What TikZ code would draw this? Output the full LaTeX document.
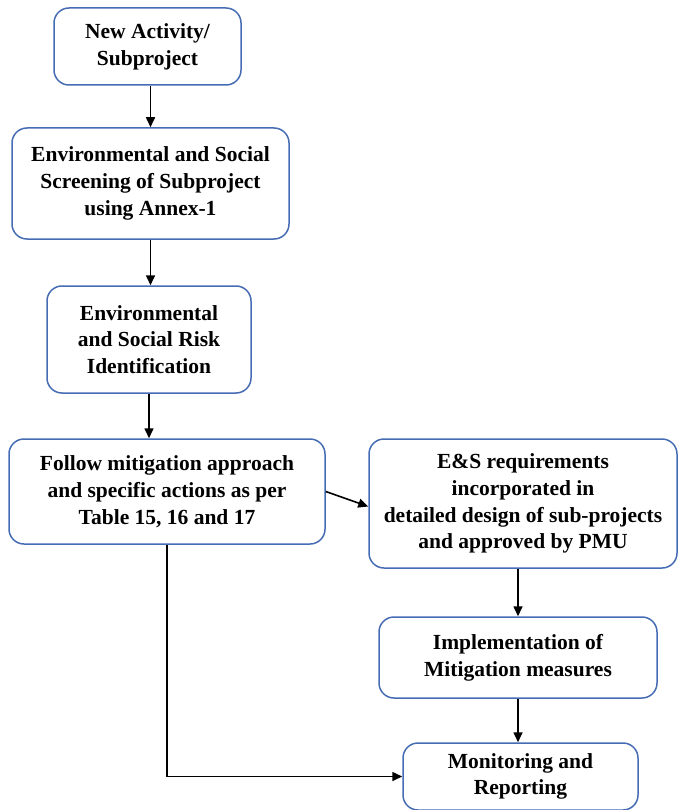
\documentclass[tikz,border=0pt]{standalone}
\usepackage{fontspec}
\setmainfont{Liberation Serif}
\usepackage{tikz}
\usetikzlibrary{arrows.meta,positioning,calc}

\definecolor{boxblue}{RGB}{70,108,180}

\begin{document}
\begin{tikzpicture}[x=1pt,y=-1pt,
	box/.style={draw=boxblue, line width=1.5pt, rounded corners=15pt, fill=white,
		align=center, inner sep=0pt, font=\fontsize{21.5}{26.8}\selectfont\bfseries},
	arr/.style={-{Triangle[length=10pt,width=9pt]}, line width=1.6pt, black}]
	\useasboundingbox (0,0) rectangle (678,810);
	% left column
	\node[box, minimum width=187pt, minimum height=77pt] (new) at (147.5,46.5) {New Activity/\\Subproject};
	\node[box, minimum width=277pt, minimum height=111pt] (screen) at (150.5,183.5) {Environmental and Social\\Screening of Subproject\\using Annex-1};
	\node[box, minimum width=204pt, minimum height=107pt] (risk) at (149,339.5) {Environmental\\and Social Risk\\Identification};
	\node[box, minimum width=316pt, minimum height=105pt] (follow) at (167,491.5) {Follow mitigation approach\\and specific actions as per\\Table 15, 16 and 17};
	% right column
	\node[box, minimum width=308pt, minimum height=129pt] (design) at (523,503.5) {E\&S requirements\\incorporated in\\detailed design of sub-projects\\and approved by PMU};
	\node[box, minimum width=278pt, minimum height=81pt] (implement) at (518,657.5) {Implementation of\\Mitigation measures};
	\node[box, minimum width=235pt, minimum height=67pt] (monitor) at (520.5,776.5) {Monitoring and\\Reporting};

	\draw[arr] (new.south -| screen) -- (screen.north);
	\draw[arr] (screen.south) -- (screen.south |- risk.north);
	\draw[arr] (risk.south) -- (risk.south |- follow.north);
	\draw[arr] (follow.east) -- ([yshift=-3pt]design.west);
	\draw[arr] (implement.north |- design.south) -- (implement.north);
	\draw[arr] (implement.south) -- (implement.south |- monitor.north);
	\draw[arr] (follow.south) |- (monitor.west);
\end{tikzpicture}
\end{document}
